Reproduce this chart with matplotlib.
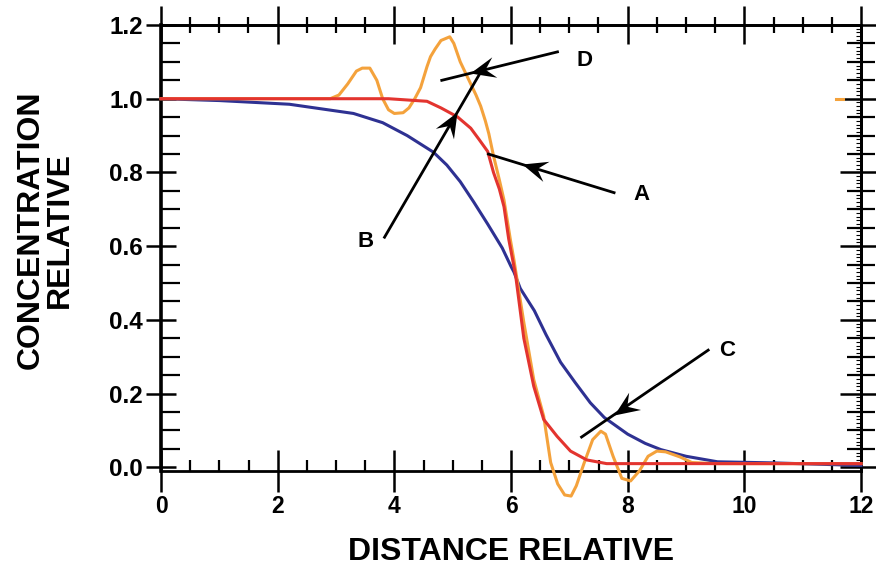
import numpy as np
import matplotlib
matplotlib.use("Agg")
import matplotlib.pyplot as plt
from matplotlib.markers import MarkerStyle
from matplotlib.path import Path
from matplotlib.transforms import Affine2D

plt.rcParams["font.family"] = ["Liberation Sans", "DejaVu Sans"]
plt.rcParams["font.weight"] = "bold"

# ------------------------------------------------------------
# DATA
# ------------------------------------------------------------

orange_x = [0.0, 2.9, 3.05, 3.2, 3.35, 3.45, 3.58, 3.7, 3.8, 3.9, 4.0, 4.15,
            4.25, 4.35, 4.45, 4.56, 4.62, 4.7, 4.8, 4.95, 5.02, 5.13, 5.25,
            5.4, 5.48, 5.56, 5.62, 5.7, 5.8, 5.88, 5.99, 6.05, 6.22, 6.39,
            6.56, 6.68, 6.8, 6.92, 7.03, 7.12, 7.25, 7.4, 7.54, 7.62, 7.75,
            7.9, 8.05, 8.2, 8.35, 8.5, 8.65, 8.9, 9.1, 9.5, 12.0]
orange_y = [1.0, 1.0, 1.01, 1.04, 1.075, 1.083, 1.083, 1.05, 1.0, 0.97, 0.96,
            0.962, 0.975, 1.0, 1.03, 1.087, 1.114, 1.135, 1.158, 1.168, 1.15,
            1.10, 1.06, 1.01, 0.98, 0.94, 0.905, 0.845, 0.78, 0.725, 0.617,
            0.563, 0.393, 0.238, 0.139, 0.013, -0.045, -0.075, -0.078, -0.05,
            0.01, 0.075, 0.098, 0.09, 0.03, -0.03, -0.037, -0.01, 0.03, 0.044,
            0.042, 0.028, 0.013, 0.01, 0.01]

orange_stub_x = [11.57, 11.69]
orange_stub_y = [1.0, 1.0]

red_x = [0.0, 3.9, 4.56, 4.8, 5.08, 5.31, 5.45, 5.6, 5.7, 5.8, 5.88, 5.96,
         6.08, 6.22, 6.39, 6.56, 6.79, 7.02, 7.3, 7.64, 12.0]
red_y = [1.0, 1.0, 0.993, 0.975, 0.951, 0.92, 0.89, 0.857, 0.80, 0.755,
         0.707, 0.62, 0.52, 0.35, 0.22, 0.13, 0.084, 0.044, 0.02, 0.01, 0.01]

blue_x = [0.0, 1.0, 2.2, 3.3, 3.8, 4.22, 4.67, 4.9, 5.13, 5.36, 5.6, 5.85,
          6.0, 6.05, 6.16, 6.4, 6.6, 6.85, 7.1, 7.36, 7.6, 8.0, 8.3, 8.57,
          9.0, 9.54, 10.5, 12.0]
blue_y = [1.0, 0.995, 0.985, 0.96, 0.935, 0.90, 0.855, 0.82, 0.775, 0.72,
          0.66, 0.595, 0.545, 0.53, 0.485, 0.425, 0.36, 0.285, 0.23, 0.175,
          0.135, 0.09, 0.065, 0.048, 0.03, 0.015, 0.012, 0.005]

# arrows: tail point, end point, arrowhead position as fraction tail->end
arrow_names = ["A", "B", "C", "D"]
arrow_tail = [(7.79, 0.744), (3.82, 0.621), (9.40, 0.320), (6.82, 1.128)]
arrow_end = [(5.59, 0.851), (5.48, 1.072), (7.19, 0.080), (4.79, 1.049)]
arrow_frac = [0.73, 0.76, 0.74, 0.75]
label_pos = [(8.24, 0.739), (3.50, 0.612), (9.71, 0.316), (7.26, 1.105)]

x_ticks = [0, 2, 4, 6, 8, 10, 12]
y_ticks = [0.0, 0.2, 0.4, 0.6, 0.8, 1.0, 1.2]

# ------------------------------------------------------------
# FIGURE
# ------------------------------------------------------------

fig = plt.figure(figsize=(8.76, 5.69), dpi=100)
ax = fig.add_axes([161 / 876, 98 / 569, 700 / 876, 446 / 569])

ax.plot(blue_x, blue_y, color="#2e3192", lw=2.2, clip_on=False, zorder=3)
ax.plot(orange_x, orange_y, color="#f4a23c", lw=2.2, clip_on=False, zorder=3)
ax.plot(orange_stub_x, orange_stub_y, color="#f4a23c", lw=2.2, zorder=3)
ax.plot(red_x, red_y, color="#e3342f", lw=2.2, clip_on=False, zorder=4)

ax.set_xlim(0, 12)
ax.set_ylim(-0.01, 1.2)

# arrowhead marker (barbed, tip at origin)
head = Path([(0, 0), (-1, 0.42), (-0.62, 0), (-1, -0.42), (0, 0)],
            [Path.MOVETO, Path.LINETO, Path.LINETO, Path.LINETO,
             Path.CLOSEPOLY])

for name, tail, end, frac, lab in zip(arrow_names, arrow_tail, arrow_end,
                                      arrow_frac, label_pos):
    ax.plot([tail[0], end[0]], [tail[1], end[1]], color="black", lw=2.0,
            zorder=6, solid_capstyle="butt")
    tip = (tail[0] + frac * (end[0] - tail[0]),
           tail[1] + frac * (end[1] - tail[1]))
    p0 = ax.transData.transform(tail)
    p1 = ax.transData.transform(end)
    angle = np.degrees(np.arctan2(p1[1] - p0[1], p1[0] - p0[0]))
    marker = MarkerStyle(head, transform=Affine2D().rotate_deg(angle))
    ax.plot([tip[0]], [tip[1]], marker=marker, markersize=36,
            color="black", markeredgewidth=0, zorder=7)
    ax.text(lab[0], lab[1], name, fontsize=16, fontweight="bold",
            ha="center", va="center", zorder=7)

# spines
for side in ["left", "bottom", "top", "right"]:
    ax.spines[side].set_linewidth(2.0)
ax.spines["left"].set_linewidth(2.6)

# bottom / left ticks
ax.set_xticks(x_ticks)
ax.set_xticks(np.arange(0, 12.01, 0.5), minor=True)
ax.set_yticks(y_ticks)
ax.set_yticks(np.arange(0, 1.2001, 0.05), minor=True)
ax.set_xticklabels([f"{t:d}" for t in x_ticks])
ax.set_yticklabels([f"{t:.1f}" for t in y_ticks])

ax.tick_params(axis="x", which="major", direction="inout", length=30,
               width=1.8, labelsize=16.5, pad=2)
ax.tick_params(axis="x", which="minor", direction="in", length=8, width=1.6)
ax.tick_params(axis="y", which="major", direction="inout", length=22,
               width=1.8, labelsize=17.5, pad=2)
ax.tick_params(axis="y", which="minor", direction="in", length=14, width=1.6)

# top ticks
top = ax.secondary_xaxis("top")
top.set_xticks(x_ticks)
top.set_xticks(np.arange(0, 12.01, 0.5), minor=True)
top.tick_params(which="major", direction="inout", length=28, width=1.8,
                labeltop=False)
top.tick_params(which="minor", direction="inout", length=12, width=1.6)
top.spines["top"].set_linewidth(2.0)

# right ticks
right = ax.secondary_yaxis("right")
right.set_yticks(y_ticks)
right.set_yticks(np.arange(0, 1.2001, 0.05), minor=True)
right.tick_params(which="major", direction="inout", length=30, width=1.8,
                  labelright=False)
right.tick_params(which="minor", direction="inout", length=20, width=1.6)
right.spines["right"].set_linewidth(2.0)

fine = ax.secondary_yaxis("right")
fine.set_yticks(np.arange(0, 1.2001, 0.01))
fine.tick_params(which="major", direction="in", length=3.5, width=0.8,
                 labelright=False)
fine.spines["right"].set_linewidth(2.0)

# axis titles
fig.text(511 / 876, 1 - 552 / 569, "DISTANCE RELATIVE", fontsize=23,
         fontweight="bold", ha="center", va="center")
fig.text(45 / 876, 1 - 230 / 569, "CONCENTRATION\nRELATIVE", fontsize=23,
         fontweight="bold", ha="center", va="center", rotation=90,
         multialignment="center", linespacing=0.95)

fig.savefig("out.png", dpi=100)
